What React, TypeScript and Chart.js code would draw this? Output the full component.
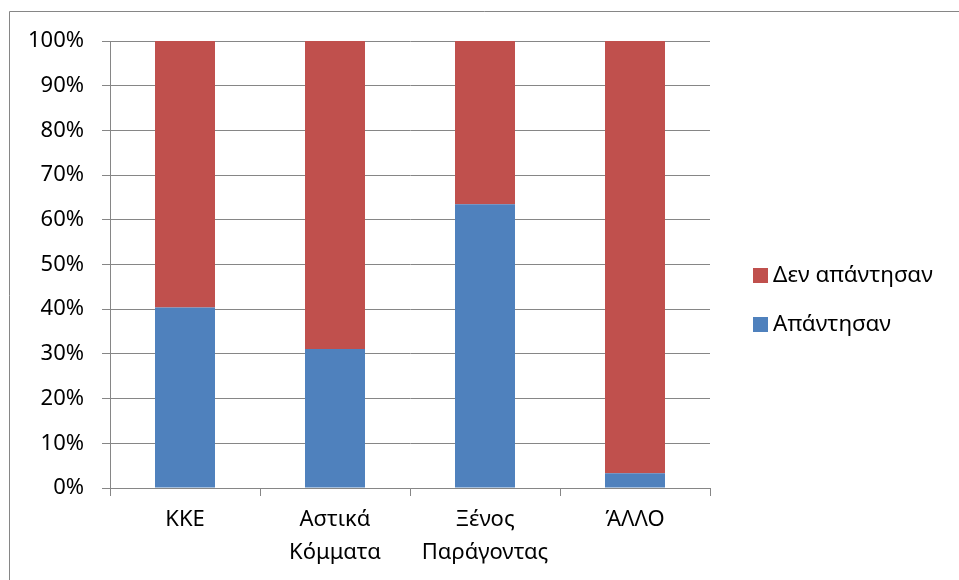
import React, { useEffect, useRef } from "react";
import { Chart, registerables } from "chart.js";

Chart.register(...registerables);

const categories: string[][] = [["ΚΚΕ"], ["Αστικά", "Κόμματα"], ["Ξένος", "Παράγοντας"], ["ΆΛΛΟ"]];
const answered = [40.4, 31.1, 63.5, 3.3];
const notAnswered = [59.6, 68.9, 36.5, 96.7];
const seriesNames = ["Απάντησαν", "Δεν απάντησαν"];
const yTicks = [0, 10, 20, 30, 40, 50, 60, 70, 80, 90, 100];

const FONT = "'Noto Sans', sans-serif";
const GRID = "#868686";

const framePlugin = {
  id: "frame",
  beforeDraw(chart: any) {
    const ctx = chart.ctx;
    ctx.save();
    ctx.fillStyle = "#ffffff";
    ctx.fillRect(0, 0, chart.width, chart.height);
    ctx.strokeStyle = GRID;
    ctx.lineWidth = 1;
    ctx.beginPath();
    ctx.moveTo(9.5, chart.height);
    ctx.lineTo(9.5, 11.5);
    ctx.lineTo(chart.width, 11.5);
    ctx.stroke();
    ctx.restore();
  },
};

const legendPlugin = {
  id: "customLegend",
  afterDraw(chart: any) {
    const ctx = chart.ctx;
    const ds = chart.data.datasets.slice().reverse();
    ctx.save();
    ctx.font = `22.5px ${FONT}`;
    ctx.textBaseline = "alphabetic";
    ctx.textAlign = "left";
    ds.forEach((d: any, i: number) => {
      const y = 268 + i * 49;
      ctx.fillStyle = d.backgroundColor;
      ctx.fillRect(753, y, 15, 15);
      ctx.fillStyle = "#000000";
      ctx.fillText(d.label, 773, y + 14);
    });
    ctx.restore();
  },
};

export default function App() {
  const ref = useRef<HTMLCanvasElement>(null);
  useEffect(() => {
    document.body.style.margin = "0";
    const chart = new Chart(ref.current!, {
      type: "bar",
      data: {
        labels: categories,
        datasets: [
          { label: seriesNames[0], data: answered, backgroundColor: "#4F81BD" },
          { label: seriesNames[1], data: notAnswered, backgroundColor: "#C0504D" },
        ],
      },
      plugins: [framePlugin, legendPlugin],
      options: {
        responsive: false,
        animation: false,
        devicePixelRatio: 1,
        layout: { padding: { left: 0, top: 41, right: 249, bottom: 0 } },
        plugins: { legend: { display: false }, tooltip: { enabled: false } },
        datasets: { bar: { categoryPercentage: 1, barPercentage: 0.4 } },
        scales: {
          x: {
            stacked: true,
            offset: true,
            grid: { offset: true, drawOnChartArea: false, color: GRID, tickLength: 8, tickColor: GRID },
            border: { color: GRID, width: 1 },
            ticks: { color: "#000", font: { family: FONT, size: 22, lineHeight: 1.5 }, padding: 7, maxRotation: 0 },
            afterFit: (s: any) => { s.height = 92; },
          },
          y: {
            stacked: true,
            min: 0,
            max: 100,
            grid: { color: GRID, tickLength: 8, tickColor: GRID },
            border: { color: GRID, width: 1 },
            afterBuildTicks: (s: any) => { s.ticks = yTicks.map((v) => ({ value: v })); },
            ticks: {
              color: "#000",
              font: { family: FONT, size: 22 },
              padding: 18,
              callback: (v: any) => `${v}%`,
            },
            afterFit: (s: any) => { s.width = 110; },
          },
        },
      },
    });
    return () => chart.destroy();
  }, []);
  return (
    <div style={{ width: 959, height: 580 }}>
      <canvas ref={ref} width={959} height={580} style={{ display: "block" }} />
    </div>
  );
}
